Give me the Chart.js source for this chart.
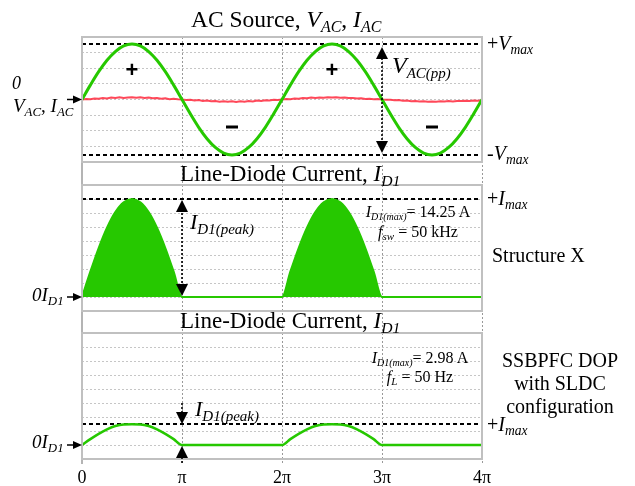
<!DOCTYPE html>
<html>
<head>
<meta charset="utf-8">
<script src="https://cdn.jsdelivr.net/npm/chart.js@4.4.1/dist/chart.umd.min.js"></script>
<style>
  body { margin: 0; width: 635px; height: 486px; position: relative; background: #fff; overflow: hidden; }
  canvas { position: absolute; left: 0; top: 0; }
  .t { position: absolute; white-space: nowrap; font-family: "Liberation Serif", serif; line-height: 1; color: #000; }
  sub { font-size: 0.68em; vertical-align: baseline; position: relative; top: 0.3em; }
  .c { text-align: center; }
</style>
</head>
<body>
<canvas id="frame" width="635" height="486"></canvas>
<canvas id="p1" width="635" height="486"></canvas>
<canvas id="p2" width="635" height="486"></canvas>
<canvas id="p3" width="635" height="486"></canvas>

<!-- titles -->
<div class="t" style="left:191px;top:8px;font-size:23.5px">AC Source, <i>V<sub>AC</sub></i>, <i>I<sub>AC</sub></i></div>
<div class="t" style="left:180px;top:162px;font-size:23px">Line-Diode Current, <i>I<sub>D1</sub></i></div>
<div class="t" style="left:180px;top:309px;font-size:23px">Line-Diode Current, <i>I<sub>D1</sub></i></div>

<!-- left labels -->
<div class="t" style="left:12px;top:74px;font-size:18px"><i>0</i></div>
<div class="t" style="left:13px;top:96px;font-size:19px"><i>V<sub>AC</sub></i>, <i>I<sub>AC</sub></i></div>
<div class="t" style="left:32px;top:285px;font-size:19px"><i>0I<sub>D1</sub></i></div>
<div class="t" style="left:32px;top:432px;font-size:19px"><i>0I<sub>D1</sub></i></div>

<!-- right labels -->
<div class="t" style="left:487px;top:33px;font-size:20px">+<i>V<sub>max</sub></i></div>
<div class="t" style="left:487px;top:143px;font-size:20px">-<i>V<sub>max</sub></i></div>
<div class="t" style="left:487px;top:188px;font-size:20px">+<i>I<sub>max</sub></i></div>
<div class="t" style="left:487px;top:414px;font-size:20px">+<i>I<sub>max</sub></i></div>
<div class="t" style="left:492px;top:245px;font-size:20px">Structure X</div>
<div class="t c" style="left:490px;top:349px;width:140px;font-size:20px;line-height:23px">SSBPFC DOP<br>with SLDC<br>configuration</div>

<!-- in-plot annotations -->
<div class="t" style="left:392px;top:53px;font-size:24px"><i>V<sub style="font-size:15px">AC(pp)</sub></i></div>
<div class="t" style="left:190px;top:211px;font-size:22px"><i>I<sub style="font-size:15px">D1(peak)</sub></i></div>
<div class="t" style="left:195px;top:398px;font-size:22px"><i>I<sub style="font-size:15px">D1(peak)</sub></i></div>
<div class="t c" style="left:338px;top:203px;width:160px;font-size:16px;line-height:18px"><i>I<sub style="font-size:10px">D1(max)</sub></i>= 14.25 A<br><i>f<sub style="font-size:11px">sw</sub></i> = 50 kHz</div>
<div class="t c" style="left:340px;top:349px;width:160px;font-size:16px;line-height:17px"><i>I<sub style="font-size:10px">D1(max)</sub></i>= 2.98 A<br><i>f<sub style="font-size:11px">L</sub></i> = 50 Hz</div>

<script>
// x is in units of pi (0 .. 4pi)
const phase = Array.from({length: 49}, (_, i) => i / 12);
const phaseFine = Array.from({length: 97}, (_, i) => i / 24);
const xTicks = ['0', 'π', '2π', '3π', '4π'];

// AC source voltage (grid units, +-4 full scale)
const vAC = [0, 0.92, 1.78, 2.51, 3.07, 3.43, 3.55, 3.43, 3.07, 2.51, 1.78, 0.92, 0,
  -0.92, -1.78, -2.51, -3.07, -3.43, -3.55, -3.43, -3.07, -2.51, -1.78, -0.92, 0,
  0.92, 1.78, 2.51, 3.07, 3.43, 3.55, 3.43, 3.07, 2.51, 1.78, 0.92, 0,
  -0.92, -1.78, -2.51, -3.07, -3.43, -3.55, -3.43, -3.07, -2.51, -1.78, -0.92, 0];

// AC source current (small, noisy)
const iAC = [0, 0.03, 0.01, 0.07, 0.05, 0.10, 0.06, 0.12, 0.09, 0.14, 0.10, 0.13, 0.15, 0.11, 0.14, 0.09, 0.12, 0.08, 0.10, 0.05, 0.08, 0.02, 0.05, 0.01, 0,
  -0.03, -0.01, -0.06, -0.04, -0.09, -0.07, -0.11, -0.09, -0.14, -0.11, -0.15, -0.12, -0.16, -0.12, -0.14, -0.10, -0.12, -0.07, -0.09, -0.05, -0.06, -0.02, -0.03, 0,
  0.03, 0.02, 0.06, 0.05, 0.09, 0.08, 0.12, 0.10, 0.13, 0.11, 0.15, 0.13, 0.14, 0.11, 0.13, 0.09, 0.10, 0.06, 0.08, 0.04, 0.05, 0.02, 0.03, 0,
  -0.02, -0.01, -0.05, -0.04, -0.08, -0.07, -0.11, -0.10, -0.13, -0.11, -0.15, -0.13, -0.14, -0.12, -0.13, -0.10, -0.12, -0.09, -0.10, -0.08, -0.09, -0.07, -0.08, -0.06];

// line-diode current envelope, Structure X
const iD1X = [0, 1.81, 3.5, 4.95, 6.06, 6.76, 7, 6.76, 6.06, 4.95, 3.5, 1.81, 0,
  0, 0, 0, 0, 0, 0, 0, 0, 0, 0, 0, 0,
  1.81, 3.5, 4.95, 6.06, 6.76, 7, 6.76, 6.06, 4.95, 3.5, 1.81, 0,
  0, 0, 0, 0, 0, 0, 0, 0, 0, 0, 0, 0];

// line-diode current, SSBPFC DOP with SLDC
const iD1Sldc = [0, 0.42, 0.80, 1.12, 1.36, 1.47, 1.48, 1.47, 1.36, 1.12, 0.80, 0.42, 0,
  0, 0, 0, 0, 0, 0, 0, 0, 0, 0, 0, 0,
  0.42, 0.80, 1.12, 1.36, 1.47, 1.48, 1.47, 1.36, 1.12, 0.80, 0.42, 0,
  0, 0, 0, 0, 0, 0, 0, 0, 0, 0, 0, 0];

const vMax = 3.55;
const iMaxX = 7;
const iMaxSldc = 1.5;

const green = '#26c800';
const gridGray = '#c6c6c6';

const pts = (xs, ys) => ys.map((y, i) => ({x: xs[i], y: y}));
const hline = v => [{x: 0, y: v}, {x: 4, y: v}];
const dashLine = v => ({data: hline(v), borderColor: '#000', borderWidth: 2, borderDash: [4, 3], pointRadius: 0});

function arrowHead(ctx, x, y, dir, len, half) {
    ctx.beginPath();
    ctx.moveTo(x, y);
    if (dir === 'up') { ctx.lineTo(x - half, y + len); ctx.lineTo(x + half, y + len); }
    else if (dir === 'down') { ctx.lineTo(x - half, y - len); ctx.lineTo(x + half, y - len); }
    else { ctx.lineTo(x - len, y - half); ctx.lineTo(x - len, y + half); }
    ctx.closePath();
    ctx.fill();
}

function dotted(ctx, x1, y1, x2, y2) {
    ctx.save();
    ctx.setLineDash([2, 2]);
    ctx.lineWidth = 1.6;
    ctx.beginPath();
    ctx.moveTo(x1, y1);
    ctx.lineTo(x2, y2);
    ctx.stroke();
    ctx.restore();
}

// small arrow pointing at the zero level from the left labels
function leftArrow(ctx, left, y) {
    ctx.lineWidth = 1.5;
    ctx.beginPath();
    ctx.moveTo(left - 15, y);
    ctx.lineTo(left - 6, y);
    ctx.stroke();
    arrowHead(ctx, left, y, 'right', 9, 4);
}

// background: vertical pi grid lines + x tick labels
new Chart(document.getElementById('frame'), {
    type: 'line',
    data: {datasets: []},
    options: {
        responsive: false,
        animation: false,
        layout: {padding: {left: 82, right: 153, top: 37, bottom: 0}},
        plugins: {legend: {display: false}, tooltip: {enabled: false}},
        scales: {
            x: {
                type: 'linear', min: 0, max: 4,
                ticks: {stepSize: 1, padding: 4, color: '#000',
                    font: {family: 'Liberation Serif', size: 18},
                    callback: v => xTicks[v]},
                grid: {color: '#999999', lineWidth: 1, drawTicks: false},
                border: {display: false, dash: [2, 2]},
                afterFit: a => { a.height = 23; }
            },
            y: {
                min: 0, max: 1,
                ticks: {display: false},
                grid: {display: false},
                border: {display: true, color: '#b4b4b4', width: 2},
                afterFit: a => { a.width = 0; }
            }
        }
    }
});

function makePanel(id, top, bottom, yMin, yMax, datasets, extra) {
    return new Chart(document.getElementById(id), {
        type: 'line',
        data: {datasets: datasets},
        options: {
            responsive: false,
            animation: false,
            parsing: false,
            layout: {padding: {left: 82, right: 153, top: top, bottom: 486 - bottom}},
            elements: {point: {radius: 0}},
            plugins: {legend: {display: false}, tooltip: {enabled: false}},
            scales: {
                x: {
                    type: 'linear', min: 0, max: 4,
                    ticks: {display: false},
                    grid: {display: false},
                    border: {display: false},
                    afterFit: a => { a.height = 0; }
                },
                y: {
                    min: yMin, max: yMax,
                    ticks: {display: false, stepSize: 1},
                    grid: {color: gridGray, lineWidth: 1, drawTicks: false},
                    border: {display: false, dash: [2, 2]},
                    afterFit: a => { a.width = 0; }
                }
            }
        },
        plugins: [{
            id: 'panelFrame',
            afterDraw(chart) {
                const {ctx, chartArea: ca} = chart;
                ctx.save();
                ctx.strokeStyle = '#c0c0c0';
                ctx.lineWidth = 2;
                ctx.strokeRect(ca.left, ca.top, ca.right - ca.left, ca.bottom - ca.top);
                ctx.fillStyle = '#000';
                ctx.strokeStyle = '#000';
                extra(chart, ctx, chart.scales.x, chart.scales.y, ca);
                ctx.restore();
            }
        }]
    });
}

// panel 1: AC source
makePanel('p1', 37, 162, -4, 4, [
    {data: pts(phase, vAC), borderColor: green, borderWidth: 3, cubicInterpolationMode: 'monotone'},
    {data: pts(phaseFine, iAC), borderColor: 'rgba(255,40,60,0.85)', borderWidth: 2, tension: 0},
    dashLine(vMax),
    dashLine(-vMax)
], (chart, ctx, sx, sy, ca) => {
    const x3 = sx.getPixelForValue(3);
    const yt = sy.getPixelForValue(vMax), yb = sy.getPixelForValue(-vMax);
    dotted(ctx, x3, yt + 10, x3, yb - 10);
    arrowHead(ctx, x3, yt + 3, 'up', 12, 6);
    arrowHead(ctx, x3, yb - 2, 'down', 12, 6);
    leftArrow(ctx, ca.left, sy.getPixelForValue(0));
    ctx.font = 'bold 22px "Liberation Sans"';
    ctx.textAlign = 'center';
    ctx.textBaseline = 'middle';
    [0.5, 2.5].forEach(p => ctx.fillText('+', sx.getPixelForValue(p), sy.getPixelForValue(1.82)));
    ctx.fillRect(sx.getPixelForValue(1.5) - 6, sy.getPixelForValue(-1.76) - 1.5, 12, 3);
    ctx.fillRect(sx.getPixelForValue(3.5) - 6, sy.getPixelForValue(-1.76) - 1.5, 12, 3);
});

// panel 2: line-diode current, Structure X
makePanel('p2', 185, 311, -1, 8, [
    {data: pts(phase, iD1X), borderColor: green, backgroundColor: green, borderWidth: 2,
        fill: 'origin', cubicInterpolationMode: 'monotone'},
    dashLine(iMaxX)
], (chart, ctx, sx, sy, ca) => {
    const x1 = sx.getPixelForValue(1);
    const yp = sy.getPixelForValue(iMaxX), y0 = sy.getPixelForValue(0);
    dotted(ctx, x1, yp + 10, x1, y0 - 10);
    arrowHead(ctx, x1, yp + 1, 'up', 12, 6);
    arrowHead(ctx, x1, y0 - 1, 'down', 12, 6);
    leftArrow(ctx, ca.left, y0);
});

// panel 3: line-diode current, SSBPFC DOP with SLDC
makePanel('p3', 333, 459, -1, 8, [
    {data: pts(phase, iD1Sldc), borderColor: green, borderWidth: 2.5, cubicInterpolationMode: 'monotone'},
    dashLine(iMaxSldc)
], (chart, ctx, sx, sy, ca) => {
    const x1 = sx.getPixelForValue(1);
    const yp = sy.getPixelForValue(iMaxSldc), y0 = sy.getPixelForValue(0);
    dotted(ctx, x1, yp - 21, x1, yp - 10);
    arrowHead(ctx, x1, yp, 'down', 12, 6);
    arrowHead(ctx, x1, y0 + 1, 'up', 12, 6);
    dotted(ctx, x1, y0 + 12, x1, y0 + 20);
    leftArrow(ctx, ca.left, y0);
});
</script>
</body>
</html>
